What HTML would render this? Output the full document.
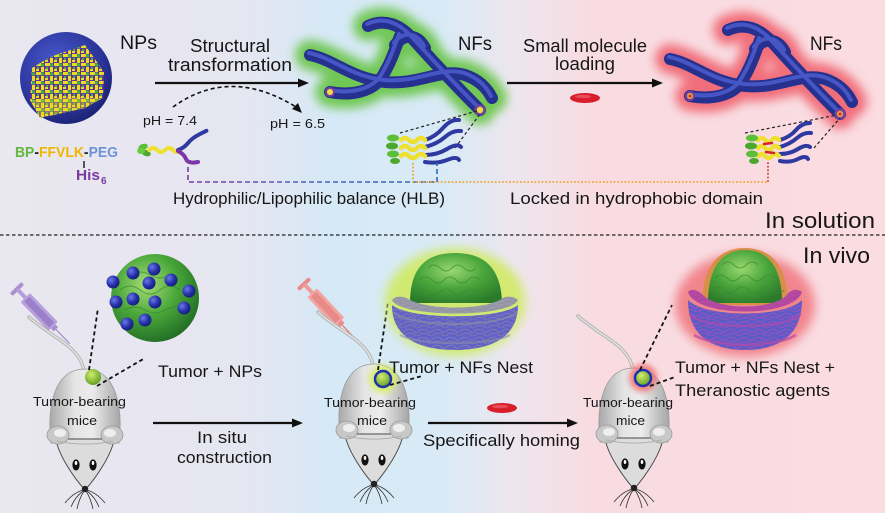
<!DOCTYPE html>
<html><head><meta charset="utf-8">
<style>
html,body{margin:0;padding:0;width:885px;height:513px;overflow:hidden;background:#fff}
svg{display:block}
text{font-family:"Liberation Sans",sans-serif;fill:#161616}
</style></head><body>
<svg width="885" height="513" viewBox="0 0 885 513" xmlns="http://www.w3.org/2000/svg">
<defs>
<linearGradient id="bg" x1="0" x2="885" y1="0" y2="0" gradientUnits="userSpaceOnUse">
<stop offset="0" stop-color="#e9e7f0"/>
<stop offset="0.27" stop-color="#e6e6f1"/>
<stop offset="0.37" stop-color="#d6e9f6"/>
<stop offset="0.5" stop-color="#d9eaf6"/>
<stop offset="0.58" stop-color="#ede6ee"/>
<stop offset="0.67" stop-color="#f8dce2"/>
<stop offset="1" stop-color="#fadce1"/>
</linearGradient>
<filter id="bl" x="-50%" y="-50%" width="200%" height="200%"><feGaussianBlur stdDeviation="5"/></filter>
<filter id="bl2" x="-50%" y="-50%" width="200%" height="200%"><feGaussianBlur stdDeviation="3"/></filter>
<radialGradient id="npsph" cx="0.4" cy="0.35" r="0.7">
<stop offset="0" stop-color="#4a5ad0"/><stop offset="0.7" stop-color="#2a3498"/><stop offset="1" stop-color="#1a2070"/>
</radialGradient>
<pattern id="npp" width="9" height="9" patternUnits="userSpaceOnUse">
<rect width="9" height="9" fill="#6b2f98"/>
<rect x="0" y="0" width="5" height="3" fill="#e6df22"/>
<rect x="5" y="4" width="3" height="5" fill="#e6df22"/>
<rect x="0" y="6" width="3" height="2" fill="#e6df22"/>
<circle cx="6.5" cy="2" r="1.7" fill="#3cb04a"/>
<circle cx="2" cy="5" r="1.2" fill="#3cb04a"/>
</pattern>
<radialGradient id="tum" cx="0.4" cy="0.35" r="0.7">
<stop offset="0" stop-color="#a8dc78"/><stop offset="0.5" stop-color="#4aa83a"/><stop offset="1" stop-color="#1f6a24"/>
</radialGradient>
<radialGradient id="bdot" cx="0.35" cy="0.35" r="0.7">
<stop offset="0" stop-color="#6a78e8"/><stop offset="0.6" stop-color="#2630a8"/><stop offset="1" stop-color="#161c78"/>
</radialGradient>
<radialGradient id="ball" cx="0.4" cy="0.35" r="0.7">
<stop offset="0" stop-color="#d0ee70"/><stop offset="1" stop-color="#5c9a1e"/>
</radialGradient>
<radialGradient id="dome" cx="0.45" cy="0.35" r="0.7">
<stop offset="0" stop-color="#9ad870"/><stop offset="0.5" stop-color="#4aa63c"/><stop offset="1" stop-color="#2a7a2a"/>
</radialGradient>
<linearGradient id="mbody" x1="0" x2="1" y1="0" y2="0">
<stop offset="0" stop-color="#a9a9a9"/><stop offset="0.35" stop-color="#e4e4e4"/><stop offset="0.6" stop-color="#ececec"/><stop offset="1" stop-color="#a6a6a6"/>
</linearGradient>
<linearGradient id="dl" x1="188" x2="437" y1="0" y2="0" gradientUnits="userSpaceOnUse">
<stop offset="0" stop-color="#7a3aa8"/><stop offset="0.35" stop-color="#5a5ab8"/><stop offset="1" stop-color="#2a6ab8"/>
</linearGradient>
<pattern id="tangle" width="14" height="8" patternUnits="userSpaceOnUse">
<path d="M0,2 Q4,0 7,3 T14,2 M0,6 Q5,4 9,7 T14,6" fill="none" stroke="#8a8aa0" stroke-width="0.6"/>
</pattern>
<pattern id="tangle2" width="14" height="8" patternUnits="userSpaceOnUse">
<path d="M0,2 Q4,0 7,3 T14,2 M0,6 Q5,4 9,7 T14,6" fill="none" stroke="#c04ab0" stroke-width="0.7"/>
</pattern>

<g id="fp" fill="none">
<path d="M310,55 C335,60 350,78 385,82 C420,85 440,68 465,75 C480,80 488,90 492,98"/>
<path d="M368,26 C385,18 400,25 412,38 C430,58 455,85 480,110"/>
<path d="M330,92 C350,96 370,92 380,80 C390,65 395,50 400,36"/>
<path d="M395,45 C405,32 418,35 425,48"/>
</g>

<g id="mouse">
<path d="M-1,2 C-4,-18 -24,-28 -38,-38 C-46,-44 -52,-48 -56,-52" fill="none" stroke="#b4b4b4" stroke-width="3.5" stroke-linecap="round"/>
<path d="M-1,2 C-4,-18 -24,-28 -38,-38 C-46,-44 -52,-48 -56,-52" fill="none" stroke="#e2e2e2" stroke-width="1.5" stroke-linecap="round"/>
<path d="M-34,74 C-38,40 -32,0 0,0 C32,0 38,40 34,74 Z" fill="url(#mbody)" stroke="#9a9a9a" stroke-width="0.8"/>
<path d="M-29,70 L29,70 C27,86 10,110 0,121 C-10,110 -27,86 -29,70 Z" fill="#dcdcdc" stroke="#4a4a4a" stroke-width="1"/>
<ellipse cx="-27" cy="66" rx="11" ry="9" fill="#c8c8c8" stroke="#9a9a9a" stroke-width="0.8"/>
<ellipse cx="-25" cy="64" rx="6" ry="4" fill="#eeeeee"/>
<ellipse cx="27" cy="66" rx="11" ry="9" fill="#c8c8c8" stroke="#9a9a9a" stroke-width="0.8"/>
<ellipse cx="25" cy="64" rx="6" ry="4" fill="#eeeeee"/>
<path d="M-28,72 C-10,76 10,76 28,72" fill="none" stroke="#b0b0b0" stroke-width="1"/>
<ellipse cx="-9" cy="96" rx="3.6" ry="5.6" fill="#111"/>
<ellipse cx="-9" cy="94" rx="1.3" ry="2" fill="#fff"/>
<ellipse cx="8" cy="96" rx="3.6" ry="5.6" fill="#111"/>
<ellipse cx="8" cy="94" rx="1.3" ry="2" fill="#fff"/>
<circle cx="0" cy="120" r="3.2" fill="#222"/>
<g stroke="#333" stroke-width="0.8" fill="none">
<path d="M-2,121 Q-12,124 -20,134"/><path d="M-2,122 Q-10,128 -14,138"/><path d="M-1,122 Q-6,130 -8,140"/>
<path d="M2,121 Q12,124 20,134"/><path d="M2,122 Q10,128 14,138"/><path d="M1,122 Q6,130 8,140"/>
</g>
</g>
</defs>

<rect width="885" height="513" fill="url(#bg)"/>

<!-- separator -->
<line x1="0" y1="235" x2="885" y2="235" stroke="#222" stroke-width="1.3" stroke-dasharray="3.5,2.5"/>

<!-- ===== TOP ===== -->
<circle cx="66" cy="78" r="46" fill="url(#npsph)"/>
<polygon points="32,68 50,57 85,45 104,72 103,98 85,108 40,118 30,100" fill="url(#npp)"/>
<polygon points="30,100 40,118 85,108 103,98 70,96" fill="#e6df22" opacity="0.35"/>

<text x="120" y="49" font-size="19" textLength="37" lengthAdjust="spacingAndGlyphs">NPs</text>
<text x="190" y="52" font-size="18" textLength="80" lengthAdjust="spacingAndGlyphs">Structural</text>
<text x="168" y="71" font-size="18" textLength="124" lengthAdjust="spacingAndGlyphs">transformation</text>
<line x1="155" y1="83" x2="300" y2="83" stroke="#111" stroke-width="2.2"/>
<polygon points="309,83 298,78.5 298,87.5" fill="#111"/>

<path d="M173,107 Q230,66 296,107" fill="none" stroke="#111" stroke-width="1.6" stroke-dasharray="4,3"/>
<polygon points="302,113 292,109 298,103" fill="#111"/>
<text x="143" y="125" font-size="13" textLength="54" lengthAdjust="spacingAndGlyphs">pH = 7.4</text>
<text x="270" y="128" font-size="13" textLength="55" lengthAdjust="spacingAndGlyphs">pH = 6.5</text>

<text x="15" y="157" font-size="14.5" font-weight="bold" textLength="103" lengthAdjust="spacingAndGlyphs"><tspan fill="#62b93c" style="fill:#62b93c">BP</tspan><tspan style="fill:#222">-</tspan><tspan style="fill:#f2b500">FFVLK</tspan><tspan style="fill:#222">-</tspan><tspan style="fill:#6a94d6">PEG</tspan></text>
<line x1="84" y1="161" x2="84" y2="168" stroke="#222" stroke-width="1.5"/>
<text x="76" y="180" font-size="14.5" font-weight="bold" style="fill:#7a3aa0" textLength="24" lengthAdjust="spacingAndGlyphs">His</text>
<text x="101" y="184" font-size="10" font-weight="bold" style="fill:#7a3aa0">6</text>

<!-- small molecule -->
<g>
<ellipse cx="143" cy="147" rx="5" ry="3" fill="#5cbf38" transform="rotate(-20 143 147)"/>
<ellipse cx="146" cy="153" rx="5" ry="3" fill="#4aa82e" transform="rotate(20 146 153)"/>
<ellipse cx="141" cy="151" rx="4" ry="3" fill="#6acc40"/>
<path d="M149,150 q4,-4 8,0 t8,0 t8,0 t7,0" fill="none" stroke="#eee030" stroke-width="4" stroke-linecap="round"/>
<path d="M178,150 q6,-2 10,-7 t12,-9 t6,-3" fill="none" stroke="#2f3aa0" stroke-width="4" stroke-linecap="round"/>
<path d="M178,151 q6,3 8,8 t12,3" fill="none" stroke="#7a36a8" stroke-width="4" stroke-linecap="round"/>
</g>

<!-- middle fibers -->
<use href="#fp" stroke="#66c444" stroke-width="30" stroke-linecap="round" filter="url(#bl)" opacity="0.9"/>
<use href="#fp" stroke="#26308e" stroke-width="12" stroke-linecap="round"/>
<use href="#fp" stroke="#4656c4" stroke-width="4" stroke-linecap="round" transform="translate(-1,-2)"/>
<circle cx="330" cy="92" r="5" fill="#7a40a0"/><circle cx="330" cy="92" r="3" fill="#e8e040"/>
<circle cx="480" cy="110" r="5.5" fill="#7a40a0"/><circle cx="480" cy="110" r="3.2" fill="#e8e040"/>
<text x="458" y="50" font-size="19" textLength="34" lengthAdjust="spacingAndGlyphs">NFs</text>

<!-- middle assembly -->
<g>
<line x1="400" y1="133" x2="477" y2="111" stroke="#222" stroke-width="1.2" stroke-dasharray="3,2.5"/>
<line x1="455" y1="148" x2="480" y2="114" stroke="#222" stroke-width="1.2" stroke-dasharray="3,2.5"/>
<g fill="none" stroke-linecap="round">
<path d="M425,140 q10,-3 18,-12 t16,-8" stroke="#2f3aa0" stroke-width="4"/>
<path d="M425,147 q12,-3 20,-10 t16,-6" stroke="#2f3aa0" stroke-width="4"/>
<path d="M425,155 q12,0 22,-6 t14,-2" stroke="#2f3aa0" stroke-width="4"/>
<path d="M425,162 q12,2 22,-2 t12,0" stroke="#2f3aa0" stroke-width="4"/>
<path d="M401,140 q4,-4 8,0 t8,0 t8,0" stroke="#eee030" stroke-width="4.5"/>
<path d="M401,148 q4,-4 8,0 t8,0 t8,0" stroke="#eee030" stroke-width="4.5"/>
<path d="M401,156 q4,-4 8,0 t8,0 t8,0" stroke="#eee030" stroke-width="4.5"/>
</g>
<ellipse cx="393" cy="138" rx="6" ry="3.5" fill="#5cbf38"/>
<ellipse cx="392" cy="146" rx="6" ry="3.5" fill="#4aa82e"/>
<ellipse cx="393" cy="154" rx="6" ry="3.5" fill="#5cbf38"/>
<ellipse cx="395" cy="161" rx="5" ry="3" fill="#4aa82e"/>
</g>

<text x="523" y="52" font-size="18" textLength="124" lengthAdjust="spacingAndGlyphs">Small molecule</text>
<text x="555" y="70" font-size="18" textLength="60" lengthAdjust="spacingAndGlyphs">loading</text>
<line x1="507" y1="83" x2="654" y2="83" stroke="#111" stroke-width="2.2"/>
<polygon points="663,83 652,78.5 652,87.5" fill="#111"/>
<ellipse cx="585" cy="98" rx="15" ry="5" fill="#d81e2a"/>
<ellipse cx="583" cy="96.5" rx="8" ry="1.8" fill="#f06070" opacity="0.7"/>

<!-- right fibers -->
<g transform="translate(360,4)">
<use href="#fp" stroke="#f06470" stroke-width="30" stroke-linecap="round" filter="url(#bl)" opacity="0.9"/>
<use href="#fp" stroke="#26308e" stroke-width="12" stroke-linecap="round"/>
<use href="#fp" stroke="#4656c4" stroke-width="4" stroke-linecap="round" transform="translate(-1,-2)"/>
<circle cx="330" cy="92" r="5" fill="#7a40a0"/><circle cx="330" cy="92" r="3" fill="#e8a040"/><circle cx="330" cy="92" r="1.3" fill="#d02020"/>
<circle cx="480" cy="110" r="5.5" fill="#7a40a0"/><circle cx="480" cy="110" r="3.2" fill="#e8a040"/><circle cx="480" cy="110" r="1.4" fill="#d02020"/>
</g>
<text x="810" y="50" font-size="19" textLength="32" lengthAdjust="spacingAndGlyphs">NFs</text>

<!-- right assembly -->
<g>
<line x1="745" y1="133" x2="837" y2="115" stroke="#222" stroke-width="1.2" stroke-dasharray="3,2.5"/>
<line x1="814" y1="148" x2="840" y2="118" stroke="#222" stroke-width="1.2" stroke-dasharray="3,2.5"/>
<g fill="none" stroke-linecap="round">
<path d="M780,140 q10,-3 16,-10 t14,-7" stroke="#2f3aa0" stroke-width="4"/>
<path d="M780,147 q10,-3 17,-9 t14,-5" stroke="#2f3aa0" stroke-width="4"/>
<path d="M780,154 q10,0 18,-5 t12,-2" stroke="#2f3aa0" stroke-width="4"/>
<path d="M780,161 q10,2 18,-2 t10,0" stroke="#2f3aa0" stroke-width="4"/>
<path d="M758,140 q3,-4 7,0 t7,0 t7,0" stroke="#eee030" stroke-width="4.5"/>
<path d="M758,148 q3,-4 7,0 t7,0 t7,0" stroke="#eee030" stroke-width="4.5"/>
<path d="M758,156 q3,-4 7,0 t7,0 t7,0" stroke="#eee030" stroke-width="4.5"/>
<path d="M764,144 l8,-1" stroke="#d82030" stroke-width="2.5"/>
<path d="M766,152 l8,1" stroke="#d82030" stroke-width="2.5"/>
</g>
<ellipse cx="752" cy="138" rx="6" ry="3.5" fill="#5cbf38"/>
<ellipse cx="751" cy="146" rx="6" ry="3.5" fill="#4aa82e"/>
<ellipse cx="752" cy="154" rx="6" ry="3.5" fill="#5cbf38"/>
<ellipse cx="754" cy="161" rx="5" ry="3" fill="#4aa82e"/>
</g>

<!-- connectors -->
<path d="M188,167 L188,182 L437,182 L437,163" fill="none" stroke="url(#dl)" stroke-width="1.6" stroke-dasharray="5,3"/>
<path d="M413,163 L413,182 L768,182" fill="none" stroke="#f0a020" stroke-width="1.6" stroke-dasharray="1.8,1.8"/>
<path d="M768,182 L768,162" fill="none" stroke="#e03030" stroke-width="1.6" stroke-dasharray="1.8,1.8"/>

<text x="173" y="204" font-size="17" textLength="272" lengthAdjust="spacingAndGlyphs">Hydrophilic/Lipophilic balance (HLB)</text>
<text x="510" y="204" font-size="17" textLength="253" lengthAdjust="spacingAndGlyphs">Locked in hydrophobic domain</text>
<text x="765" y="228" font-size="22" textLength="110" lengthAdjust="spacingAndGlyphs">In solution</text>

<!-- ===== BOTTOM ===== -->
<text x="803" y="263" font-size="22" textLength="67" lengthAdjust="spacingAndGlyphs">In vivo</text>

<!-- syringe 1 -->
<g transform="translate(17,289) rotate(46)">
<rect x="-2" y="-8" width="4" height="16" rx="1.5" fill="#a890d0"/>
<rect x="0" y="-2" width="14" height="4" fill="#b49cd8"/>
<rect x="12" y="-6.5" width="40" height="13" rx="1.5" fill="#b8a0dc"/>
<rect x="14" y="-3.5" width="36" height="7" fill="#9a80c8"/>
<rect x="52" y="-3" width="4" height="6" fill="#a890d0"/>
<line x1="56" y1="0" x2="76" y2="0" stroke="#a890d0" stroke-width="1.3"/>
</g>
<!-- syringe 2 -->
<g transform="translate(304,284) rotate(47)">
<rect x="-2" y="-8" width="4" height="16" rx="1.5" fill="#ea8a8a"/>
<rect x="0" y="-2" width="14" height="4" fill="#f09a9a"/>
<rect x="12" y="-6.5" width="40" height="13" rx="1.5" fill="#f4a4a0"/>
<rect x="14" y="-3.5" width="36" height="7" fill="#e88a88"/>
<rect x="52" y="-3" width="4" height="6" fill="#ea8a8a"/>
<line x1="56" y1="0" x2="78" y2="0" stroke="#ea7a7a" stroke-width="1.3"/>
</g>

<!-- mice -->
<use href="#mouse" transform="translate(85,369)"/>
<use href="#mouse" transform="translate(374,364)"/>
<use href="#mouse" transform="translate(634,368)"/>

<!-- NP tumor sphere -->
<circle cx="155" cy="298" r="44" fill="url(#tum)"/>
<g fill="none" stroke="#2e7e2c" stroke-width="1" opacity="0.6">
<path d="M120,290 q10,-8 20,0 t20,0 t20,0"/><path d="M125,310 q10,-6 20,0 t20,0 t20,0"/><path d="M130,275 q10,-6 20,0 t20,0"/>
</g>
<g fill="url(#bdot)">
<circle cx="113" cy="282" r="6.5"/><circle cx="133" cy="273" r="6.5"/><circle cx="154" cy="269" r="6.5"/>
<circle cx="149" cy="283" r="6.5"/><circle cx="171" cy="280" r="6.5"/><circle cx="189" cy="291" r="6.5"/>
<circle cx="116" cy="302" r="6.5"/><circle cx="133" cy="299" r="6.5"/><circle cx="155" cy="302" r="6.5"/>
<circle cx="184" cy="308" r="6.5"/><circle cx="127" cy="324" r="6.5"/><circle cx="145" cy="320" r="6.5"/>
</g>

<!-- mouse 1 tumor -->
<circle cx="93" cy="377" r="8" fill="url(#ball)"/>
<line x1="89" y1="370" x2="98" y2="308" stroke="#111" stroke-width="1.8" stroke-dasharray="4,3"/>
<line x1="97" y1="386" x2="145" y2="358" stroke="#111" stroke-width="1.8" stroke-dasharray="4,3"/>

<!-- mouse 2 tumor -->
<circle cx="383" cy="379" r="14" fill="#d6f060" filter="url(#bl2)" opacity="0.9"/>
<circle cx="383" cy="379" r="8" fill="url(#ball)" stroke="#2030b0" stroke-width="2.5"/>
<line x1="378" y1="370" x2="388" y2="302" stroke="#111" stroke-width="1.8" stroke-dasharray="4,3"/>
<line x1="390" y1="385" x2="422" y2="376" stroke="#111" stroke-width="1.8" stroke-dasharray="4,3"/>

<!-- mouse 3 tumor -->
<circle cx="643" cy="378" r="14" fill="#f07070" filter="url(#bl2)" opacity="0.85"/>
<circle cx="643" cy="378" r="8" fill="url(#ball)" stroke="#2030b0" stroke-width="2.5"/>
<line x1="640" y1="370" x2="672" y2="305" stroke="#111" stroke-width="1.8" stroke-dasharray="4,3"/>
<line x1="650" y1="386" x2="675" y2="377" stroke="#111" stroke-width="1.8" stroke-dasharray="4,3"/>

<!-- nest 2 -->
<ellipse cx="455" cy="302" rx="70" ry="54" fill="#cfea5a" filter="url(#bl)" opacity="0.85"/>
<path d="M392,305 C392,338 420,350 455,350 C490,350 518,338 518,305 C500,320 410,320 392,305 Z" fill="#6262c8"/>
<path d="M392,305 C392,338 420,350 455,350 C490,350 518,338 518,305 C500,320 410,320 392,305 Z" fill="url(#tangle)"/>
<path d="M410,303 C410,262 432,253 455,253 C478,253 501,262 502,303 Z" fill="url(#dome)"/>
<g fill="none" stroke="#3a8a30" stroke-width="1" opacity="0.7">
<path d="M420,280 q6,-6 12,0 t12,0 t12,0 t12,0 t12,0"/><path d="M416,292 q6,-6 12,0 t12,0 t12,0 t12,0 t12,0 t12,0"/><path d="M428,268 q6,-6 12,0 t12,0 t12,0 t12,0"/>
</g>
<path d="M392,300 C400,318 510,318 518,300 C512,295 505,296 500,300 C480,310 430,310 410,300 C404,296 396,295 392,300 Z" fill="#9a9aa8"/>
<path d="M392,300 C400,318 510,318 518,300 C512,295 505,296 500,300 C480,310 430,310 410,300 C404,296 396,295 392,300 Z" fill="url(#tangle)"/>
<path d="M393,312 C410,328 500,328 517,312" fill="none" stroke="#8a8aa8" stroke-width="2" opacity="0.7"/>
<path d="M400,335 C420,346 490,346 510,335" fill="none" stroke="#8a8aa8" stroke-width="2" opacity="0.6"/>

<!-- nest 3 -->
<ellipse cx="745" cy="305" rx="70" ry="52" fill="#f07078" filter="url(#bl)" opacity="0.8"/>
<path d="M688,300 C688,338 715,350 745,350 C775,350 802,338 802,300 C785,318 705,318 688,300 Z" fill="#5c5cc8"/>
<path d="M688,300 C688,338 715,350 745,350 C775,350 802,338 802,300 C785,318 705,318 688,300 Z" fill="url(#tangle2)"/>
<path d="M702,305 C702,262 722,248 745,248 C768,248 788,262 788,305 Z" fill="#d89048"/>
<path d="M708,303 C708,262 726,250 745,250 C764,250 782,262 782,303 Z" fill="url(#dome)"/>
<g fill="none" stroke="#3a8a30" stroke-width="1" opacity="0.7">
<path d="M715,278 q6,-6 12,0 t12,0 t12,0 t12,0 t12,0"/><path d="M712,290 q6,-6 12,0 t12,0 t12,0 t12,0 t12,0 t12,0"/><path d="M722,265 q6,-6 12,0 t12,0 t12,0"/>
</g>
<path d="M688,292 C696,318 794,318 802,292 C796,288 790,290 786,296 C770,310 720,310 704,296 C698,290 692,288 688,292 Z" fill="#b0489e"/>
<path d="M688,292 C696,318 794,318 802,292 C796,288 790,290 786,296 C770,310 720,310 704,296 C698,290 692,288 688,292 Z" fill="url(#tangle2)"/>
<path d="M689,314 C705,330 785,330 801,314" fill="none" stroke="#b848a8" stroke-width="2" opacity="0.6"/>
<path d="M694,335 C715,348 775,348 796,335" fill="none" stroke="#b848a8" stroke-width="2.5" opacity="0.7"/>

<!-- bottom texts & arrows -->
<text x="158" y="377" font-size="17" textLength="104" lengthAdjust="spacingAndGlyphs">Tumor + NPs</text>
<text x="33" y="406" font-size="13" textLength="93" lengthAdjust="spacingAndGlyphs">Tumor-bearing</text>
<text x="67" y="425" font-size="13" textLength="30" lengthAdjust="spacingAndGlyphs">mice</text>
<line x1="153" y1="423" x2="294" y2="423" stroke="#111" stroke-width="2.2"/>
<polygon points="303,423 292,418.5 292,427.5" fill="#111"/>
<text x="197" y="443" font-size="17" textLength="50" lengthAdjust="spacingAndGlyphs">In situ</text>
<text x="177" y="463" font-size="17" textLength="95" lengthAdjust="spacingAndGlyphs">construction</text>

<text x="389" y="373" font-size="17" textLength="144" lengthAdjust="spacingAndGlyphs">Tumor + NFs Nest</text>
<text x="324" y="407" font-size="13" textLength="92" lengthAdjust="spacingAndGlyphs">Tumor-bearing</text>
<text x="357" y="425" font-size="13" textLength="30" lengthAdjust="spacingAndGlyphs">mice</text>
<line x1="428" y1="423" x2="569" y2="423" stroke="#111" stroke-width="2.2"/>
<polygon points="578,423 567,418.5 567,427.5" fill="#111"/>
<ellipse cx="502" cy="408" rx="15" ry="5" fill="#d81e2a"/>
<ellipse cx="500" cy="406.5" rx="8" ry="1.8" fill="#f06070" opacity="0.7"/>
<text x="423" y="446" font-size="17" textLength="157" lengthAdjust="spacingAndGlyphs">Specifically homing</text>

<text x="583" y="407" font-size="13" textLength="90" lengthAdjust="spacingAndGlyphs">Tumor-bearing</text>
<text x="616" y="425" font-size="13" textLength="29" lengthAdjust="spacingAndGlyphs">mice</text>
<text x="675" y="373" font-size="17" textLength="160" lengthAdjust="spacingAndGlyphs">Tumor + NFs Nest +</text>
<text x="675" y="396" font-size="17" textLength="155" lengthAdjust="spacingAndGlyphs">Theranostic agents</text>
</svg>
</body></html>
